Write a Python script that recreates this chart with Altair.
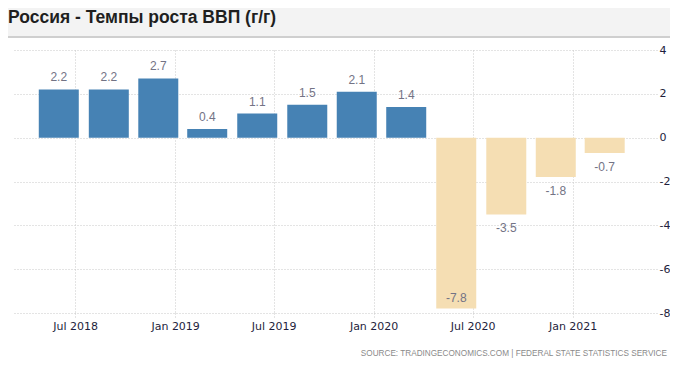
import altair as alt
import pandas as pd

# ---- data ----
dates = ["2018-06-01", "2018-09-01", "2018-12-01", "2019-03-01",
         "2019-06-01", "2019-09-01", "2019-12-01", "2020-03-01",
         "2020-06-01", "2020-09-01", "2020-12-01", "2021-03-01"]
growth = [2.2, 2.2, 2.7, 0.4, 1.1, 1.5, 2.1, 1.4, -7.8, -3.5, -1.8, -0.7]
x_ticks = ["2018-07-01", "2019-01-01", "2019-07-01",
           "2020-01-01", "2020-07-01", "2021-01-01"]
x_domain = ["2018-03-18", "2021-05-27"]
y_ticks = [-8, -6, -4, -2, 0, 2, 4]
y_domain = [-8, 4]
title_text = "Россия - Темпы роста ВВП (г/г)"
source_text = "SOURCE:  TRADINGECONOMICS.COM   |   FEDERAL  STATE  STATISTICS  SERVICE"

POS = "#4682b4"
NEG = "#f5deb3"


def dt(s):
    y, m, d = s.split("-")
    return alt.DateTime(year=int(y), month=int(m), date=int(d), utc=True)


df = pd.DataFrame({"date": dates, "value": growth})
one = pd.DataFrame({"k": [0]})

x_enc = alt.X(
    "date:T",
    scale=alt.Scale(type="utc", domain=[dt(s) for s in x_domain]),
    axis=alt.Axis(
        values=[dt(s) for s in x_ticks],
        labelExpr="utcFormat(datum.value, '%b %Y')",
        title=None, domain=False, grid=True, gridColor="#c8c8c8",
        gridDash=[1, 2], ticks=True, tickSize=5, tickColor="#c8c8c8",
        tickDash=[1, 2], labelPadding=2, labelFont="DejaVu Sans",
        labelFontSize=11, labelColor="#1e1e3c", labelFlush=False,
    ),
)
y_enc = alt.Y(
    "value:Q",
    scale=alt.Scale(domain=y_domain, nice=False, zero=True),
    axis=alt.Axis(
        orient="right", values=y_ticks, title=None, domain=False,
        labelExpr="'' + datum.value",
        ticks=False, labelPadding=2, gridColor="#c8c8c8", gridDash=[1, 2],
        labelFont="DejaVu Sans", labelFontSize=11, labelColor="#1e1e3c",
        labelFlush=False,
    ),
)

base = alt.Chart(df)

bars = base.mark_bar(size=40).encode(
    x=x_enc,
    y=y_enc,
    color=alt.condition(alt.datum.value >= 0, alt.value(POS), alt.value(NEG)),
)

labels = base.transform_calculate(
    ly="datum.value >= 0 ? datum.value + 0.55 : "
       "(datum.value < -7 ? datum.value + 0.47 : datum.value - 0.64)",
    lt="'' + datum.value",
).mark_text(
    font="Liberation Sans", fontSize=12, color="#737385", baseline="middle"
).encode(
    x=alt.X("date:T"),
    y=alt.Y("ly:Q"),
    text=alt.Text("lt:N"),
)

band = alt.Chart(one).mark_rect(color="#f3f3f3").encode(
    x=alt.value(-11), x2=alt.value(662), y=alt.value(-48), y2=alt.value(-13)
)
band_line = alt.Chart(one).mark_rule(color="#cfcfcf", strokeWidth=2).encode(
    x=alt.value(-11), x2=alt.value(662), y=alt.value(-13)
)
title = alt.Chart(one).mark_text(
    text=title_text, font="Liberation Sans", fontSize=17.5, fontWeight="bold",
    color="#1f1f1f", align="left", baseline="middle"
).encode(x=alt.value(-5), y=alt.value(-32))
source = alt.Chart(one).mark_text(
    text=source_text, font="Liberation Sans", fontSize=8.2, color="#8a8a8a",
    align="right", baseline="middle"
).encode(x=alt.value(654), y=alt.value(304))

chart = alt.layer(
    band, band_line, bars, labels, title, source
).properties(
    width=644, height=263,
    autosize=alt.AutoSizeParams(type="none"),
    padding={"left": 5, "top": 42, "right": 13, "bottom": 45},
    background="white",
).configure_view(stroke=None)

chart.save("out.html", embed_options={"renderer": "svg", "actions": False})
